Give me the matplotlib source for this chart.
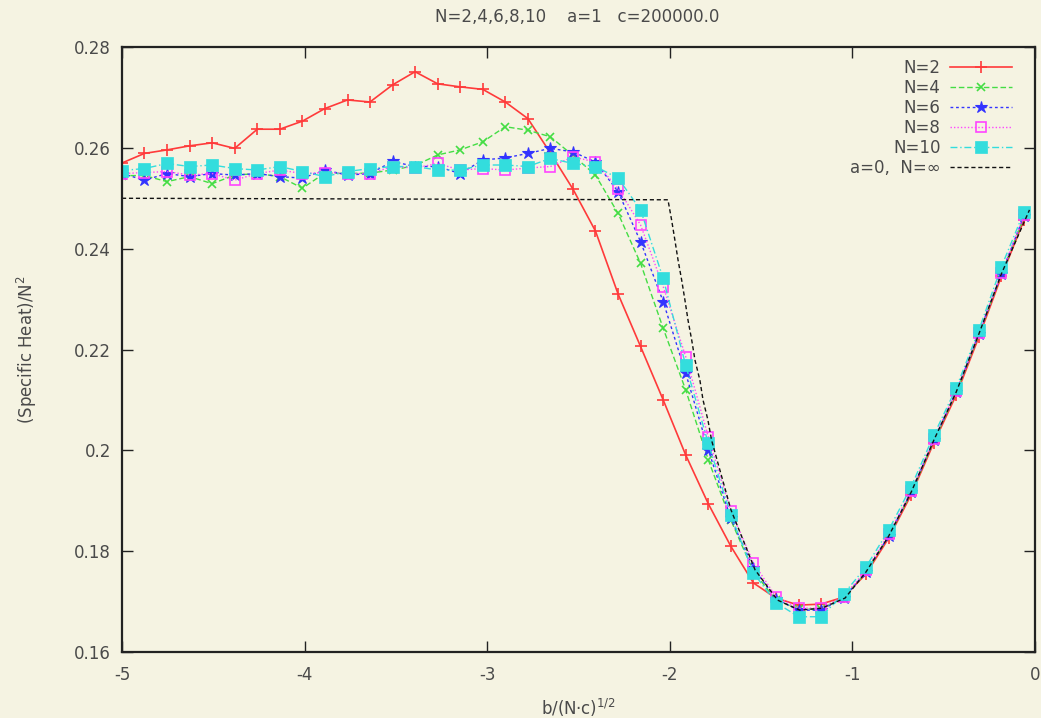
import matplotlib
matplotlib.use("Agg")
import matplotlib.pyplot as plt

# ---- data ----
x = [-5.000, -4.877, -4.753, -4.630, -4.506, -4.383, -4.259, -4.136, -4.012, -3.889,
     -3.765, -3.642, -3.518, -3.395, -3.271, -3.148, -3.024, -2.901, -2.777, -2.654,
     -2.530, -2.407, -2.283, -2.160, -2.036, -1.913, -1.789, -1.666, -1.542, -1.419,
     -1.295, -1.172, -1.048, -0.925, -0.801, -0.678, -0.554, -0.431, -0.307, -0.184,
     -0.060]

n2 = [0.2570, 0.2589, 0.2596, 0.2604, 0.2610, 0.2599, 0.2637, 0.2637, 0.2653, 0.2678,
      0.2695, 0.2691, 0.2725, 0.2751, 0.2727, 0.2721, 0.2716, 0.2691, 0.2658, 0.2590,
      0.2518, 0.2435, 0.2310, 0.2206, 0.2100, 0.1991, 0.1894, 0.1810, 0.1737, 0.1707,
      0.1693, 0.1695, 0.1709, 0.1755, 0.1826, 0.1912, 0.2015, 0.2110, 0.2225, 0.2345,
      0.2457]

n4 = [0.2545, 0.2545, 0.2533, 0.2543, 0.2529, 0.2546, 0.2549, 0.2543, 0.2520, 0.2550,
      0.2549, 0.2550, 0.2556, 0.2565, 0.2586, 0.2596, 0.2612, 0.2642, 0.2635, 0.2622,
      0.2585, 0.2546, 0.2470, 0.2371, 0.2242, 0.2120, 0.1981, 0.1862, 0.1760, 0.1703,
      0.1685, 0.1686, 0.1707, 0.1758, 0.1830, 0.1916, 0.2019, 0.2115, 0.2230, 0.2350,
      0.2463]

n6 = [0.2549, 0.2536, 0.2549, 0.2543, 0.2549, 0.2546, 0.2549, 0.2543, 0.2540, 0.2556,
      0.2546, 0.2549, 0.2573, 0.2563, 0.2563, 0.2549, 0.2576, 0.2580, 0.2589, 0.2599,
      0.2592, 0.2572, 0.2513, 0.2414, 0.2295, 0.2153, 0.2001, 0.1865, 0.1767, 0.1705,
      0.1683, 0.1683, 0.1707, 0.1759, 0.1830, 0.1917, 0.2020, 0.2116, 0.2231, 0.2350,
      0.2465]

n8 = [0.2549, 0.2551, 0.2553, 0.2546, 0.2549, 0.2536, 0.2549, 0.2556, 0.2549, 0.2551,
      0.2549, 0.2549, 0.2563, 0.2560, 0.2569, 0.2556, 0.2559, 0.2556, 0.2560, 0.2563,
      0.2582, 0.2572, 0.2519, 0.2447, 0.2325, 0.2186, 0.2027, 0.1880, 0.1777, 0.1710,
      0.1687, 0.1687, 0.1710, 0.1762, 0.1834, 0.1920, 0.2023, 0.2118, 0.2233, 0.2352,
      0.2466]

n10 = [0.2555, 0.2559, 0.2569, 0.2563, 0.2566, 0.2559, 0.2556, 0.2563, 0.2553, 0.2543,
       0.2553, 0.2559, 0.2563, 0.2563, 0.2556, 0.2556, 0.2566, 0.2566, 0.2563, 0.2579,
       0.2569, 0.2563, 0.2540, 0.2477, 0.2341, 0.2169, 0.2014, 0.1872, 0.1757, 0.1698,
       0.1670, 0.1670, 0.1715, 0.1769, 0.1842, 0.1928, 0.2030, 0.2124, 0.2239, 0.2364,
       0.2473]

xinf = [-5.0, -2.010, -1.990, -1.972, -1.955, -1.935, -1.917, -1.900, -1.880, -1.862,
        -1.835, -1.818, -1.791, -1.771, -1.665, -1.533, -1.410, -1.287, -1.167, -1.040,
        -0.925, -0.801, -0.678, -0.554, -0.431, -0.307, -0.184, -0.030]
yinf = [0.2500, 0.2497, 0.2457, 0.2417, 0.2378, 0.2338, 0.2298, 0.2258, 0.2219, 0.2179,
        0.2139, 0.2100, 0.2060, 0.2020, 0.1882, 0.1763, 0.1703, 0.1683, 0.1687, 0.1707,
        0.1759, 0.1830, 0.1917, 0.2020, 0.2116, 0.2231, 0.2350, 0.2477]

labels = ["N=2", "N=4", "N=6", "N=8", "N=10", "a=0,  N=\u221e"]
title = "N=2,4,6,8,10    a=1   c=200000.0"
xticks = [-5, -4, -3, -2, -1, 0]
yticks = [0.16, 0.18, 0.2, 0.22, 0.24, 0.26, 0.28]
yticklabels = ["0.16", "0.18", "0.2", "0.22", "0.24", "0.26", "0.28"]

# ---- figure ----
bg = "#f5f3e2"
txt = "#4a4a4a"
FS = 12
plt.rcParams['font.family'] = ['DejaVu Sans']
plt.rcParams['mathtext.fontset'] = 'dejavusans'
fig = plt.figure(figsize=(10.41, 7.18), dpi=100, facecolor=bg)
ax = fig.add_axes([0.1172, 0.0919, 0.877, 0.8426], facecolor=bg)

ax.plot(x, n2, color="#ff3a3a", lw=1.2, ls="-", marker="+", ms=9, mew=1.2, label=labels[0])
ax.plot(x, n4, color="#44dd44", lw=1.0, ls=(0, (4, 2)), marker="x", ms=6, mew=1.2, label=labels[1])
ax.plot(x, n6, color="#3333ff", lw=1.0, ls=(0, (2, 2)), marker="*", ms=9, mew=0.8, label=labels[2])
ax.plot(x, n8, color="#ff44ff", lw=1.0, ls=(0, (1, 1.5)), marker="s", ms=7, mew=1.2,
        mfc="none", label=labels[3])
ax.plot(x, n10, color="#33dddd", lw=1.0, ls=(0, (5, 2, 1, 2)), marker="s", ms=8, mew=0.5,
        label=labels[4])
ax.plot(xinf, yinf, color="#111111", lw=1.0, ls=(0, (3, 2)), label=labels[5])

ax.set_xlim(-5, 0)
ax.set_ylim(0.16, 0.28)
ax.set_xticks(xticks)
ax.set_xticklabels([str(v) for v in xticks])
ax.set_yticks(yticks)
ax.set_yticklabels(yticklabels)
ax.tick_params(direction="in", length=8, width=1, top=True, right=True,
               labelsize=FS, labelcolor=txt, color="#222222")
ax.tick_params(axis="x", pad=10)
ax.tick_params(axis="y", pad=8)
for s in ax.spines.values():
    s.set_linewidth(1.6)
    s.set_color("#222222")

ax.set_xlabel("b/(N\u00b7c)$^{1/2}$", fontsize=FS, color=txt, labelpad=9)
ax.set_ylabel("(Specific Heat)/N$^2$", fontsize=FS, color=txt, labelpad=25)
fig.text(0.554, 0.976, title, ha="center", va="center", fontsize=FS, color=txt)

leg = ax.legend(loc="upper right", frameon=False, markerfirst=False, fontsize=FS,
                handlelength=3.7, handletextpad=0.6, labelspacing=0.12,
                borderpad=0, borderaxespad=0, bbox_to_anchor=(0.975, 0.980))
for t in leg.get_texts():
    t.set_color(txt)

fig.savefig("out.png", dpi=100, facecolor=bg)
